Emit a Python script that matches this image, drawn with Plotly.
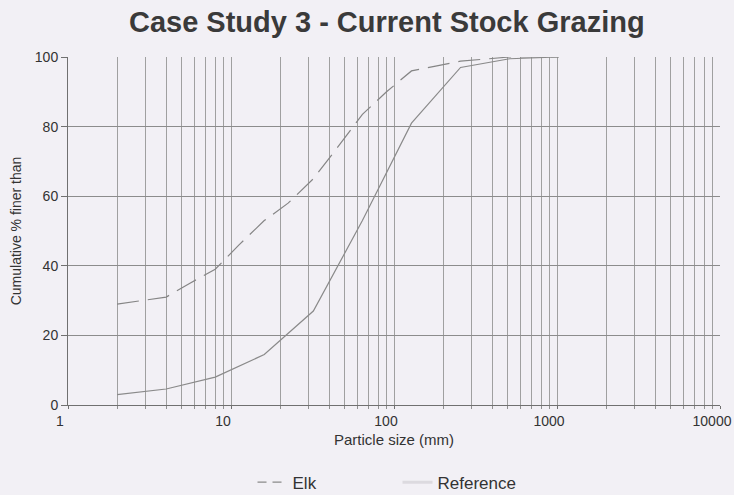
import plotly.graph_objects as go

# sieve sizes (mm) and cumulative % finer
elk_size = [2, 4, 5.6, 8, 11.2, 16, 22.4, 32, 45, 64, 90, 128, 180, 256, 512, 1024]
elk_pct = [29, 31, 35, 39, 46, 53, 58, 65, 74, 83.5, 90, 96, 97.4, 98.8, 100, 100]

ref_size = [2, 4, 8, 16, 32, 64, 128, 256, 512, 1024]
ref_pct = [3, 4.6, 8, 14.5, 27, 53, 81, 97, 99.5, 100]

x_ticks = [1, 10, 100, 1000, 10000]
y_ticks = [0, 20, 40, 60, 80, 100]

bg = "#f2f0f5"
grid = "#a0a0a0"

fig = go.Figure()
fig.add_trace(go.Scatter(
    x=elk_size, y=elk_pct, mode="lines", name="Elk", showlegend=False,
    line=dict(color="#858585", width=1.2, dash="22px,9px"),
))
fig.add_trace(go.Scatter(
    x=ref_size, y=ref_pct, mode="lines", name="Reference", showlegend=False,
    line=dict(color="#8a8a8a", width=1.2),
))
# legend-only entries, styled like the original key
fig.add_trace(go.Scatter(
    x=[None], y=[None], mode="lines", name="Elk",
    line=dict(color="#8a8a8a", width=1.2, dash="9px,6px"),
))
fig.add_trace(go.Scatter(
    x=[None], y=[None], mode="lines", name="Reference",
    line=dict(color="#dcdadf", width=3),
))

fig.update_layout(
    width=734, height=495,
    paper_bgcolor=bg, plot_bgcolor=bg,
    font=dict(family="Liberation Sans, Arial, sans-serif", size=14, color="#333333"),
    title=dict(text="<b>Case Study 3 - Current Stock Grazing</b>",
               x=0.527, xanchor="center", y=0.955, yanchor="middle",
               font=dict(size=29, color="#3a3a3a")),
    margin=dict(l=68, r=14, t=57, b=90, autoexpand=False),
    showlegend=True,
    legend=dict(orientation="h", x=0.283, xanchor="left",
                yref="container", y=0.025, yanchor="middle",
                bgcolor="rgba(0,0,0,0)", font=dict(size=17),
                entrywidth=100, entrywidthmode="pixels", tracegroupgap=0),
    xaxis=dict(
        type="log", range=[0, 4], tickvals=x_ticks, ticktext=[str(v) for v in x_ticks],
        ticklabeloverflow="allow", ticklabelshift=-8, ticklabelstandoff=0,
        automargin=False,
        showgrid=True, gridcolor=grid, gridwidth=1,
        showline=True, linecolor="#707070", linewidth=1,
        ticks="outside", ticklen=3, tickcolor="#707070",
        minor=dict(dtick="D1", showgrid=True, gridcolor=grid, gridwidth=1,
                   ticks="outside", ticklen=3, tickcolor="#909090"),
        title=dict(text="Particle size (mm)", font=dict(size=15), standoff=6),
        zeroline=False,
    ),
    yaxis=dict(
        range=[0, 100], tickvals=y_ticks, automargin=False,
        showgrid=True, gridcolor="#8c8c8c", gridwidth=1,
        showline=True, linecolor="#707070", linewidth=1,
        ticks="outside", ticklen=6, tickcolor="#707070",
        title=dict(text="Cumulative % finer than", font=dict(size=14), standoff=9),
        zeroline=False,
    ),
)

fig.write_html(
    "out.html",
    config={"displayModeBar": False},
    post_script="document.body.style.margin='0';document.body.style.background='#f2f0f5';",
)
